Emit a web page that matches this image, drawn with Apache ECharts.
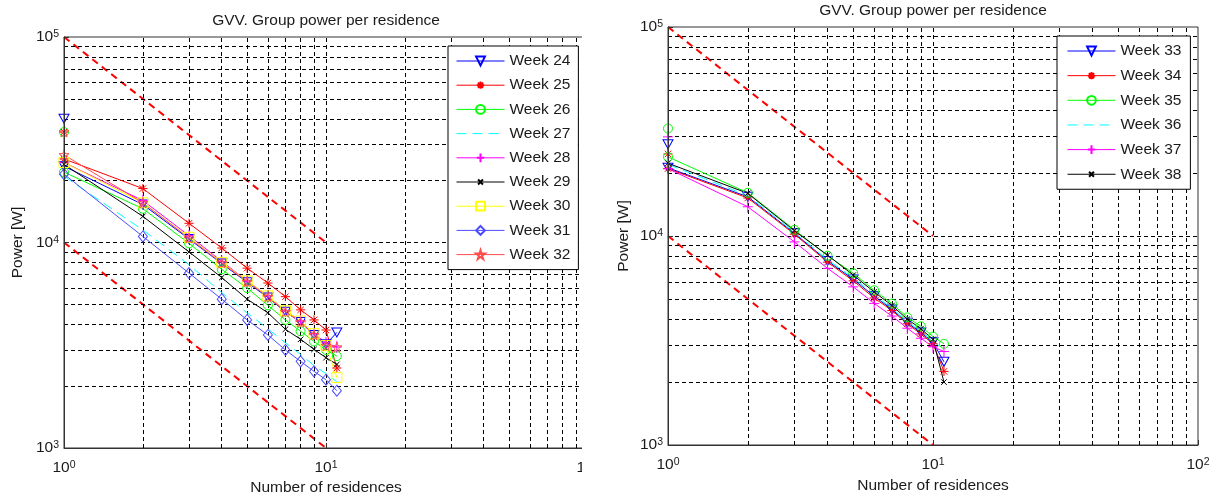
<!DOCTYPE html>
<html>
<head>
<meta charset="utf-8">
<script src="https://cdn.jsdelivr.net/npm/echarts@6/dist/echarts.min.js"></script>
<style>
html,body{margin:0;padding:0;background:#fff;}
#chart{width:1221px;height:498px;}
</style>
</head>
<body>
<div id="chart"></div>
<script>
// ---------- DATA ----------
const residences = [1, 2, 3, 4, 5, 6, 7, 8, 9, 10, 11];
const xTickExps = [0, 1, 2];
const yTickExps = [3, 4, 5];
const xGridValues = [2, 3, 4, 5, 6, 7, 8, 9, 10, 20, 30, 40, 50, 60, 70, 80, 90];
const yGridValues = [2000, 3000, 4000, 5000, 6000, 7000, 8000, 9000, 10000, 20000, 30000, 40000, 50000, 60000, 70000, 80000, 90000];
const refUpper = [[1, 100000], [10, 10000]];
const refLower = [[1, 10000], [10, 1000]];

const titleText = 'GVV. Group power per residence';
const xName = 'Number of residences';
const yName = 'Power [W]';

// Left plot: weeks 24-32
const namesLeft = ['Week 24', 'Week 25', 'Week 26', 'Week 27', 'Week 28', 'Week 29', 'Week 30', 'Week 31', 'Week 32'];
const week24 = [23500, 15300, 10400, 7900, 6400, 5400, 4600, 4100, 3550, 3200, 3650];
const week25 = [25500, 18300, 12400, 9400, 7500, 6350, 5450, 4700, 4200, 3750, 2450];
const week26 = [22000, 14600, 9900, 7400, 6000, 4950, 4200, 3700, 3300, 3000, 2800];
const week27 = [21000, 11500, 7800, 5700, 4550, 3800, 3250, 2850, 2520, 2300, 2100];
const week28 = [24500, 16000, 10800, 8100, 6500, 5500, 4650, 4150, 3600, 3250, 3100];
const week29 = [24000, 13400, 9000, 6750, 5300, 4550, 3780, 3380, 3020, 2750, 2550];
const week30 = [24500, 15600, 10600, 8000, 6500, 5500, 4650, 4150, 3600, 3150, 2200];
const week31 = [21500, 10700, 7100, 5300, 4200, 3550, 3000, 2640, 2360, 2150, 1900];
const week32 = [26700, 15600, 10500, 7950, 6450, 5450, 4600, 4100, 3550, 3150, 3100];
const peakLeft = [40000, 34500, 34500, null, null, null, null, null, 34500];

// Right plot: weeks 33-38
const namesRight = ['Week 33', 'Week 34', 'Week 35', 'Week 36', 'Week 37', 'Week 38'];
const week33 = [21200, 15400, 10300, 7600, 6200, 5150, 4450, 3850, 3450, 3100, 2500];
const week34 = [21000, 15200, 10200, 7500, 6100, 5050, 4400, 3800, 3400, 3050, 2250];
const week35 = [23900, 16100, 10700, 8050, 6630, 5500, 4750, 4080, 3700, 3300, 3050];
const week36 = [22000, 15600, 10400, 7700, 6300, 5250, 4500, 3900, 3500, 3150, 2850];
const week37 = [21000, 13800, 9370, 7000, 5710, 4760, 4140, 3620, 3240, 2950, 2800];
const week38 = [22300, 16000, 10600, 8100, 6500, 5400, 4650, 4000, 3600, 3200, 2000];
const peakRight = [27500, 24700, 32700, null, 29800, null];

// ---------- STYLE ----------
const FONT = '"Liberation Sans", Arial, Helvetica, sans-serif';
const TXT = '#1a1a1a';
const AX = '#333';
const T = 'rgba(0,0,0,0)';

const SYM = {
  triDown: 'path://M0,0L10,0L5,9Z',
  asterisk: 'path://M-1,-1M11,11M5,0L5,10M0,5L10,5M1.5,1.5L8.5,8.5M1.5,8.5L8.5,1.5',
  circle: 'circle',
  none: 'none',
  plus: 'path://M-1,0M11,10M5,0L5,10M0,5L10,5',
  cross: 'path://M-4,-4M14,14M0,0L10,10M0,10L10,0',
  square: 'rect',
  diamond: 'diamond',
  star: 'path://M50,0L61.2,34.5L97.6,34.5L68.2,55.9L79.4,90.5L50,69.1L20.6,90.5L31.8,55.9L2.4,34.5L38.8,34.5Z'
};

const leftStyle = [
  {c: '#0000ff', s: SYM.triDown, size: [10, 9]},
  {c: '#ff0000', s: SYM.asterisk, size: 11},
  {c: '#00ff00', s: SYM.circle, size: 9},
  {c: '#00ffff', s: SYM.none, size: 0, dash: [10, 6]},
  {c: '#ff00ff', s: SYM.plus, size: 12},
  {c: '#000000', s: SYM.cross, size: 10},
  {c: '#ffff00', s: SYM.square, size: 10},
  {c: '#4d4dff', s: SYM.diamond, size: [9, 11]},
  {c: '#ff4d4d', s: SYM.star, size: 10}
];
const rightStyle = [
  {c: '#0000ff', s: SYM.triDown, size: [10, 9]},
  {c: '#ff0000', s: SYM.asterisk, size: 11},
  {c: '#00ff00', s: SYM.circle, size: 9},
  {c: '#00ffff', s: SYM.none, size: 0, dash: [10, 6]},
  {c: '#ff00ff', s: SYM.plus, size: 12},
  {c: '#000000', s: SYM.cross, size: 10}
];

function buildData(vals, peak) {
  const pts = [];
  if (peak != null) { pts.push([1, peak]); pts.push([1, '-']); }
  residences.forEach((x, i) => pts.push([x, vals[i]]));
  return pts;
}

function mkSeries(name, vals, peak, st, idx) {
  return {
    type: 'line', name: name, xAxisIndex: idx, yAxisIndex: idx,
    data: buildData(vals, peak),
    symbol: st.s, symbolSize: st.size,
    showSymbol: st.s !== 'none',
    lineStyle: {color: st.c, width: 1, type: st.dash || 'solid'},
    itemStyle: st.s === 'none' ? {color: T, borderColor: T, borderWidth: 0}
                               : {color: T, borderColor: st.c, borderWidth: 1},
    emphasis: {disabled: true}, silent: true, z: 5, animation: false
  };
}

function labelFmt(v) {
  const e = Math.round(Math.log10(v));
  return '{b|10}{s|' + e + '}';
}
const richLbl = {
  b: {fontSize: 15.5, lineHeight: 16, padding: [6, 0, 6, 0], color: TXT, fontFamily: FONT},
  s: {fontSize: 10.5, lineHeight: 11, verticalAlign: 'top', color: TXT, fontFamily: FONT}
};

function mkX(idx, nameGap) {
  return {
    type: 'log', logBase: 10, gridIndex: idx, min: Math.pow(10, xTickExps[0]), max: Math.pow(10, xTickExps[xTickExps.length - 1]),
    name: xName, nameLocation: 'middle', nameGap: nameGap, nameMoveOverlap: false,
    nameTextStyle: {fontSize: 15.5, color: TXT, fontFamily: FONT},
    axisLine: {show: true, onZero: false, lineStyle: {color: AX, width: 1}},
    axisTick: {show: true, inside: true, length: 5, lineStyle: {color: AX}},
    splitLine: {show: false}, minorTick: {show: false}, minorSplitLine: {show: false},
    axisLabel: {formatter: labelFmt, rich: richLbl, margin: 12, showMinLabel: true, showMaxLabel: true, hideOverlap: false},
    z: 10
  };
}
function mkY(idx, nameGap) {
  return {
    type: 'log', logBase: 10, gridIndex: idx, min: Math.pow(10, yTickExps[0]), max: Math.pow(10, yTickExps[yTickExps.length - 1]),
    name: yName, nameLocation: 'middle', nameGap: nameGap, nameRotate: 90, nameMoveOverlap: false,
    nameTextStyle: {fontSize: 15.5, color: TXT, fontFamily: FONT},
    axisLine: {show: true, onZero: false, lineStyle: {color: AX, width: 1}},
    axisTick: {show: true, inside: true, length: 5, lineStyle: {color: AX}},
    splitLine: {show: false}, minorTick: {show: false}, minorSplitLine: {show: false},
    axisLabel: {formatter: labelFmt, rich: richLbl, margin: 5, showMinLabel: true, showMaxLabel: true, hideOverlap: false},
    z: 10
  };
}

function gridSeries(idx) {
  const d = [];
  xGridValues.forEach(v => d.push({xAxis: v}));
  yGridValues.forEach(v => d.push({yAxis: v}));
  return {
    type: 'line', name: 'grid' + idx, xAxisIndex: idx, yAxisIndex: idx, data: [],
    silent: true, z: 1, animation: false,
    markLine: {
      silent: true, symbol: ['none', 'none'], animation: false,
      label: {show: false}, emphasis: {disabled: true},
      lineStyle: {color: '#000', width: 1, type: [4, 3]},
      data: d
    }
  };
}
function refSeries(data, idx, k) {
  return {
    type: 'line', name: 'ref' + idx + k, xAxisIndex: idx, yAxisIndex: idx, data: data,
    symbol: 'none', silent: true, z: 3, animation: false,
    lineStyle: {color: '#ff0000', width: 2, type: [7, 5]}
  };
}

const leftVals = [week24, week25, week26, week27, week28, week29, week30, week31, week32];
const rightVals = [week33, week34, week35, week36, week37, week38];

const series = [gridSeries(0), gridSeries(1),
  refSeries(refUpper, 0, 'u'), refSeries(refLower, 0, 'l'),
  refSeries(refUpper, 1, 'u'), refSeries(refLower, 1, 'l')];
namesLeft.forEach((n, i) => series.push(mkSeries(n, leftVals[i], peakLeft[i], leftStyle[i], 0)));
namesRight.forEach((n, i) => series.push(mkSeries(n, rightVals[i], peakRight[i], rightStyle[i], 1)));

function mkLegend(names, left, top, gap, pad) {
  return {
    orient: 'vertical', left: left, top: top, data: names,
    itemWidth: 48, itemHeight: 11, itemGap: gap, padding: pad,
    backgroundColor: '#fff', borderColor: '#000', borderWidth: 1, borderRadius: 0,
    selectedMode: false, z: 20,
    lineStyle: {width: 1},
    textStyle: {fontSize: 15.5, lineHeight: 14, color: TXT, fontFamily: FONT}
  };
}

const option = {
  animation: false,
  backgroundColor: '#fff',
  textStyle: {fontFamily: FONT},
  title: [
    {text: titleText, left: 326, top: 13, textAlign: 'center', padding: 0,
     textStyle: {fontSize: 15.5, fontWeight: 'normal', color: TXT, fontFamily: FONT}},
    {text: titleText, left: 933, top: 3, textAlign: 'center', padding: 0,
     textStyle: {fontSize: 15.5, fontWeight: 'normal', color: TXT, fontFamily: FONT}}
  ],
  grid: [
    {left: 64, top: 37, width: 524, height: 411, show: true, borderColor: AX, borderWidth: 1, backgroundColor: 'transparent', containLabel: false, outerBoundsMode: 'none'},
    {left: 668, top: 27, width: 530, height: 418, show: true, borderColor: AX, borderWidth: 1, backgroundColor: 'transparent', containLabel: false, outerBoundsMode: 'none'}
  ],
  xAxis: [mkX(0, 32), mkX(1, 33)],
  yAxis: [mkY(0, 38), mkY(1, 36)],
  legend: [
    mkLegend(namesLeft, 448, 46, 8.2, [7, 8, 7, 8]),
    mkLegend(namesRight, 1057, 36, 8.65, [7, 9, 7, 10])
  ],
  graphic: [
    {type: 'rect', shape: {x: 582, y: 0, width: 28, height: 498}, style: {fill: '#fff'}, z: 100, silent: true}
  ],
  series: series
};

const chart = echarts.init(document.getElementById('chart'), null, {renderer: 'canvas'});
chart.setOption(option);
</script>
</body>
</html>
